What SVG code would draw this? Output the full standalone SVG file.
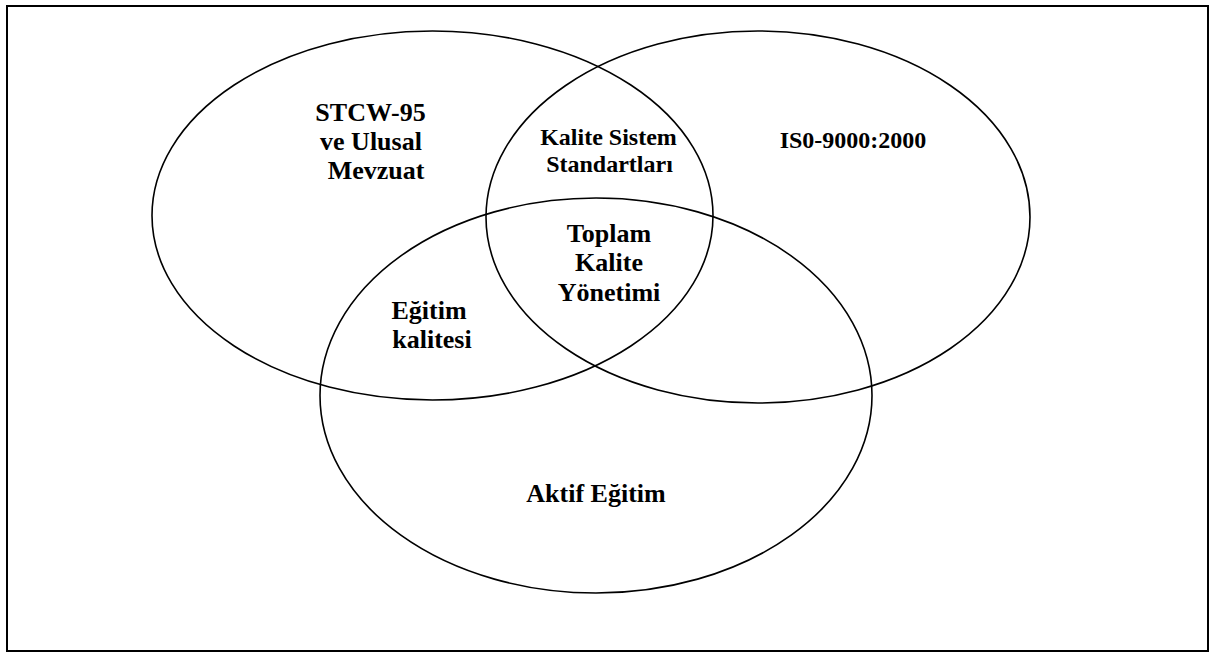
<svg xmlns="http://www.w3.org/2000/svg" width="1214" height="653" viewBox="0 0 1214 653">
<style>
.set{fill:none;stroke:#000;stroke-width:1.6}
.t{font-family:"Liberation Serif","Times New Roman",serif;font-weight:bold;fill:#000;text-anchor:middle}
.big{font-size:26px}
.sm{font-size:24px}
</style>
<rect x="0" y="0" width="1214" height="653" fill="#fff"/>
<rect id="frame" x="7" y="6" width="1201" height="645" fill="none" stroke="#000" stroke-width="2"/>
<g id="set-stcw">
<ellipse class="set" cx="432.5" cy="215.5" rx="280.5" ry="184.5"/>
<text class="t big" x="370.5" y="120.5">STCW-95</text>
<text class="t big" x="371" y="149.5">ve Ulusal</text>
<text class="t big" x="376" y="178.5">Mevzuat</text>
</g>
<g id="set-iso">
<ellipse class="set" cx="758" cy="217" rx="272" ry="186"/>
<text class="t sm" x="853" y="148">IS0-9000:2000</text>
</g>
<g id="set-aktif">
<ellipse class="set" cx="596" cy="395.5" rx="276" ry="197.5"/>
<text class="t big" x="596" y="501.5">Aktif Eğitim</text>
</g>
<g id="region-kalite-sistem">
<text class="t sm" x="608.5" y="145">Kalite Sistem</text>
<text class="t sm" x="609.5" y="171.5">Standartları</text>
</g>
<g id="region-tkm">
<text class="t big" x="609" y="241.5">Toplam</text>
<text class="t big" x="609" y="271">Kalite</text>
<text class="t big" x="609" y="300.5">Yönetimi</text>
</g>
<g id="region-egitim-kalitesi">
<text class="t big" x="429" y="319">Eğitim</text>
<text class="t big" x="432" y="347.5">kalitesi</text>
</g>
</svg>
